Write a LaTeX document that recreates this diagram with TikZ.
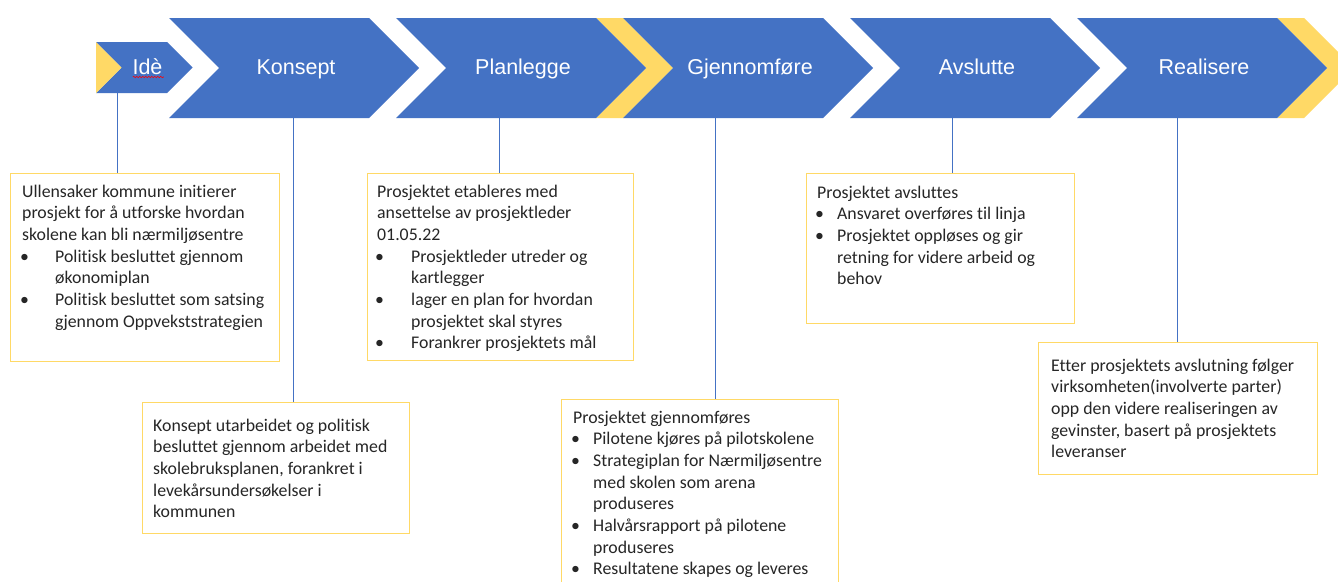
\documentclass[tikz,border=0pt]{standalone}
\usepackage{fontspec}
\setmainfont{Carlito}[Ligatures=NoCommon]
\newfontfamily\labfont{Liberation Sans}
\usetikzlibrary{decorations.pathmorphing}
\definecolor{cblue}{HTML}{4472C4}
\definecolor{cyel}{HTML}{FFD966}
\definecolor{cbox}{HTML}{FFD966}
\definecolor{ctxt}{HTML}{262626}
\newcommand{\bt}[1]{\makebox[#1][l]{\hspace{-2pt}\textbullet}}
\newcommand{\ind}[1]{\hspace*{#1}}
\begin{document}
\begin{tikzpicture}[x=1pt,y=-1pt,
 band/.style={fill=cyel,draw=none},
 chev/.style={fill=cblue,draw=none},
 lab/.style={text=white,font=\labfont\fontsize{21.5}{24}\selectfont,inner sep=0,anchor=base},
 box/.style={draw=cbox,line width=1pt,fill=white,anchor=north west,inner sep=0},
 txt/.style={anchor=base west,inner sep=0,text=ctxt,font=\fontsize{17.8}{21.7}\selectfont},
 conn/.style={draw=cblue,line width=0.9pt}]
\useasboundingbox (0,0) rectangle (1338,581);
\clip (0,0) rectangle (1338,581);
\fill[white] (0,0) rectangle (1338,581);

% yellow bands
\fill[band] (596,18) -- (623,18) -- (673,68) -- (623,118) -- (596,118) -- (646,68) -- cycle;
\fill[band] (1277,18) -- (1304,18) -- (1354,68) -- (1304,118) -- (1277,118) -- (1327,68) -- cycle;

% Ide chevron
\fill[chev] (96,42) -- (167,42) -- (192.5,67.5) -- (167,93) -- (96,93) -- (121.5,67.5) -- cycle;
\fill[band] (96,42) -- (121.5,67.5) -- (96,93) -- cycle;

% big chevrons
\foreach \x in {169,396,623,850,1077}{
  \fill[chev] (\x,18) -- ++(200,0) -- ++(50,50) -- ++(-50,50) -- ++(-200,0) -- ++(50,-50) -- cycle;
}

% labels
\node[lab] (l0) at (147.5,74.5) {Idè};
\draw[red,line width=0.6pt,decorate,decoration={snake,amplitude=0.7pt,segment length=3pt}] (l0.base west) ++(0.5,2.5) -- ++(31,0);
\node[lab] (l1) at (296,74.5) {Konsept};
\node[lab] (l2) at (523,74.5) {Planlegge};
\node[lab] (l3) at (750,74.5) {Gjennomføre};
\node[lab] (l4) at (977,74.5) {Avslutte};
\node[lab] (l5) at (1204,74.5) {Realisere};

% chevron bottoms
\coordinate (c0) at (117,93);
\coordinate (c1) at (293,118);
\coordinate (c2) at (499,118);
\coordinate (c3) at (715,118);
\coordinate (c4) at (952,118);
\coordinate (c5) at (1177,118);

% boxes
\node[box,minimum width=269pt,minimum height=188pt] (b0) at (10,173) {};
\node[box,minimum width=267pt,minimum height=131pt] (b1) at (142,402) {};
\node[box,minimum width=266pt,minimum height=187pt] (b2) at (367,173) {};
\node[box,minimum width=277pt,minimum height=220pt] (b3) at (561,399) {};
\node[box,minimum width=268pt,minimum height=150pt] (b4) at (806,173) {};
\node[box,minimum width=279pt,minimum height=132pt] (b5) at (1038,342) {};

% connectors
\draw[conn] (c0) -- (c0 |- b0.north);
\draw[conn] (c1) -- (c1 |- b1.north);
\draw[conn] (c2) -- (c2 |- b2.north);
\draw[conn] (c3) -- (c3 |- b3.north);
\draw[conn] (c4) -- (c4 |- b4.north);
\draw[conn] (c5) -- (c5 |- b5.north);

% texts
\node[txt] (t0) at (22,197) {\parbox[t]{300pt}{\raggedright
Ullensaker kommune initierer\\
prosjekt for å utforske hvordan\\
skolene kan bli nærmiljøsentre\\
\bt{33pt}Politisk besluttet gjennom\\
\ind{33pt}økonomiplan\\
\bt{33pt}Politisk besluttet som satsing\\
\ind{33pt}gjennom Oppvekststrategien}};

\node[txt] (t1) at (153,431) {\parbox[t]{300pt}{\raggedright
Konsept utarbeidet og politisk\\
besluttet gjennom arbeidet med\\
skolebruksplanen, forankret i\\
levekårsundersøkelser i\\
kommunen}};

\node[txt] (t2) at (377,197) {\parbox[t]{300pt}{\raggedright
Prosjektet etableres med\\
ansettelse av prosjektleder\\
01.05.22\\
\bt{34pt}Prosjektleder utreder og\\
\ind{34pt}kartlegger\\
\bt{34pt}lager en plan for hvordan\\
\ind{34pt}prosjektet skal styres\\
\bt{34pt}Forankrer prosjektets mål}};

\node[txt] (t3) at (573,423) {\parbox[t]{300pt}{\raggedright
Prosjektet gjennomføres\\
\bt{20pt}Pilotene kjøres på pilotskolene\\
\bt{20pt}Strategiplan for Nærmiljøsentre\\
\ind{20pt}med skolen som arena\\
\ind{20pt}produseres\\
\bt{20pt}Halvårsrapport på pilotene\\
\ind{20pt}produseres\\
\bt{20pt}Resultatene skapes og leveres}};

\node[txt] (t4) at (817,198) {\parbox[t]{300pt}{\raggedright
Prosjektet avsluttes\\
\bt{20pt}Ansvaret overføres til linja\\
\bt{20pt}Prosjektet oppløses og gir\\
\ind{20pt}retning for videre arbeid og\\
\ind{20pt}behov}};

\node[txt] (t5) at (1051,371) {\parbox[t]{300pt}{\raggedright
Etter prosjektets avslutning følger\\
virksomheten(involverte parter)\\
opp den videre realiseringen av\\
gevinster, basert på prosjektets\\
leveranser}};
\end{tikzpicture}
\end{document}
